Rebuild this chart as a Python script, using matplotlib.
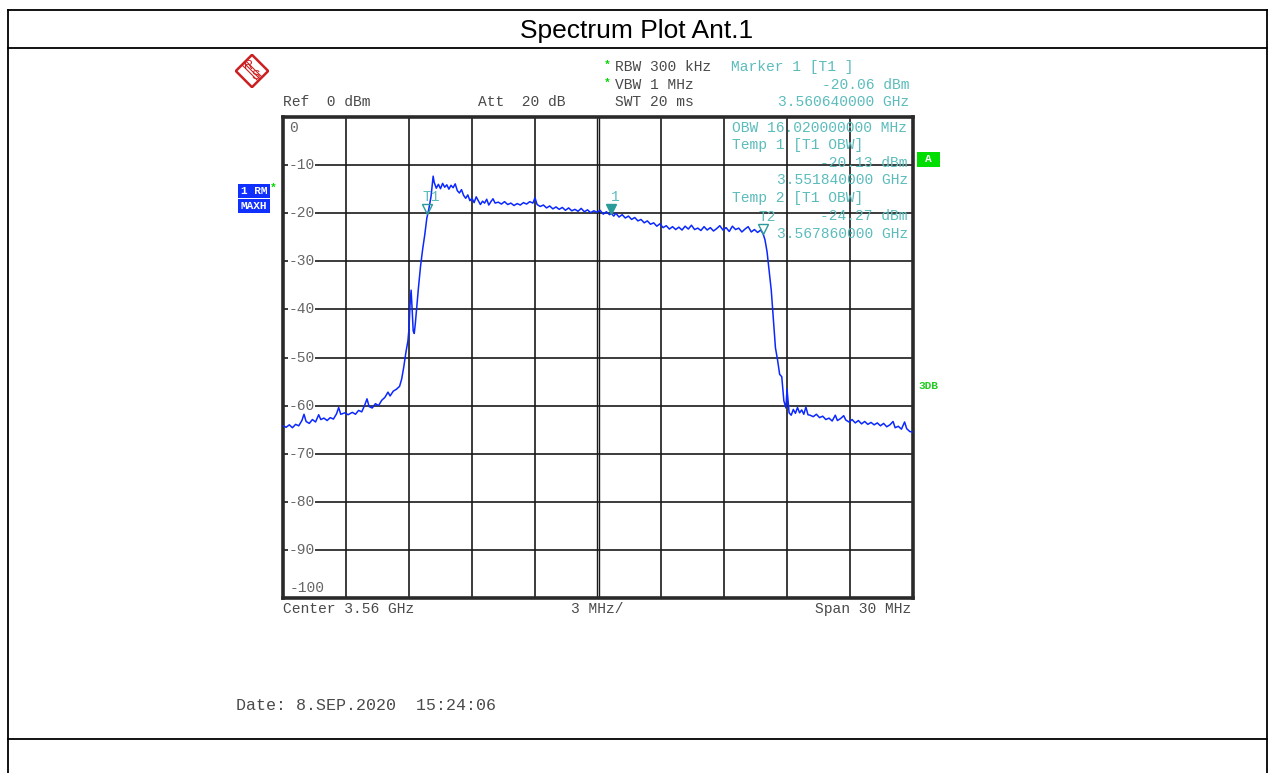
import numpy as np
import matplotlib.pyplot as plt
from matplotlib.lines import Line2D
from matplotlib.patches import Polygon, Rectangle

W, H = 1269, 773

# trace: frequency offset from start frequency (MHz) and level (dBm)
start_mhz = 3545.0
stop_mhz = 3575.0
offset_mhz = [
    0.00, 0.15, 0.30, 0.45, 0.60, 0.75, 0.90, 1.00, 1.10, 1.25, 1.40, 1.55, 1.70, 1.80, 1.95,
    2.10, 2.25, 2.40, 2.55, 2.65, 2.75, 2.95, 3.10, 3.30, 3.45, 3.60, 3.75, 3.90, 4.00, 4.10,
    4.25, 4.40, 4.55, 4.70, 4.85, 5.00, 5.10, 5.25, 5.40, 5.55, 5.65, 5.75, 5.85, 5.95, 6.00,
    6.05, 6.10, 6.15, 6.20, 6.25, 6.30, 6.35, 6.45, 6.55, 6.65, 6.75, 6.85, 6.95, 7.05, 7.10,
    7.15, 7.20, 7.30, 7.40, 7.50, 7.60, 7.70, 7.80, 7.90, 8.00, 8.10, 8.20, 8.30, 8.40, 8.50,
    8.60, 8.70, 8.80, 8.90, 9.00, 9.10, 9.20, 9.30, 9.40, 9.50, 9.60, 9.70, 9.80, 9.90, 10.00,
    10.10, 10.25, 10.40, 10.55, 10.70, 10.85, 11.00, 11.15, 11.30, 11.45, 11.60, 11.75, 11.90,
    12.00, 12.10, 12.25, 12.40, 12.55, 12.70, 12.85, 13.00, 13.15, 13.30, 13.45, 13.60, 13.75,
    13.90, 14.05, 14.20, 14.35, 14.50, 14.65, 14.80, 14.95, 15.10, 15.25, 15.40, 15.55, 15.64,
    15.75, 15.85, 16.00, 16.15, 16.30, 16.45, 16.60, 16.75, 16.90, 17.05, 17.20, 17.35, 17.50,
    17.65, 17.80, 17.95, 18.10, 18.25, 18.40, 18.55, 18.70, 18.85, 19.00, 19.15, 19.30, 19.45,
    19.60, 19.75, 19.90, 20.05, 20.20, 20.35, 20.50, 20.65, 20.80, 20.95, 21.10, 21.25, 21.40,
    21.55, 21.70, 21.85, 22.00, 22.15, 22.30, 22.45, 22.60, 22.75, 22.86, 22.95, 23.05, 23.15,
    23.25, 23.35, 23.45, 23.55, 23.65, 23.75, 23.85, 23.95, 24.00, 24.10, 24.20, 24.30, 24.40,
    24.50, 24.60, 24.70, 24.80, 24.90, 25.00, 25.10, 25.25, 25.40, 25.55, 25.70, 25.85, 26.00,
    26.15, 26.30, 26.40, 26.55, 26.70, 26.80, 26.95, 27.10, 27.25, 27.40, 27.55, 27.70, 27.85,
    28.00, 28.15, 28.30, 28.45, 28.60, 28.75, 28.90, 29.05, 29.15, 29.30, 29.45, 29.60, 29.70,
    29.85, 30.00,
]
level_dbm = [
    -64.2, -64.5, -64.0, -64.6, -63.9, -64.2, -63.1, -61.8, -63.3, -63.7, -62.9, -63.4, -61.9, -62.9, -62.6,
    -63.1, -62.5, -62.8, -61.7, -60.4, -61.8, -61.5, -61.9, -61.4, -61.8, -61.0, -61.3, -59.8, -58.6, -60.2,
    -60.5, -59.6, -60.0, -58.9, -58.3, -57.2, -58.0, -57.0, -56.6, -56.0, -54.5, -52.0, -49.0, -46.5, -44.0,
    -39.0, -36.0, -40.0, -44.5, -45.0, -43.0, -40.5, -35.5, -31.0, -27.5, -24.5, -21.0, -19.0, -16.5, -14.5,
    -12.3, -13.6, -14.8, -14.0, -14.9, -13.8, -14.6, -14.1, -15.0, -14.2, -14.7, -13.9, -15.3, -15.8, -15.1,
    -16.3, -16.9, -16.2, -17.4, -16.9, -17.8, -16.6, -17.4, -18.2, -17.5, -17.9, -17.1, -18.3, -17.6, -17.0,
    -17.9, -17.7, -18.1, -17.6, -18.2, -17.9, -18.4, -18.0, -18.3, -17.8, -18.1, -17.6, -17.9,
    -16.8, -18.2, -18.6, -18.3, -18.9, -18.5, -19.1, -18.7, -19.2, -18.8, -19.4, -18.9, -19.5,
    -19.2, -19.6, -19.0, -19.7, -19.3, -19.9, -19.5, -19.8, -19.4, -20.2, -19.7, -20.3, -20.06,
    -20.6, -20.0, -20.8, -20.3, -21.0, -20.6, -21.3, -20.9, -21.6, -21.3, -22.0, -21.6, -22.3,
    -22.0, -22.7, -22.2, -23.0, -22.6, -23.3, -22.8, -23.4, -22.9, -23.5, -22.7, -23.3, -22.5,
    -23.4, -23.1, -23.6, -22.8, -23.5, -23.0, -23.7, -23.2, -22.6, -23.5, -23.0, -23.8, -22.7,
    -23.4, -23.1, -23.9, -23.3, -22.8, -23.9, -23.4, -24.0, -23.5, -24.27, -25.5, -28.0, -32.0,
    -36.0, -42.0, -48.0, -50.5, -53.5, -54.0, -59.0, -60.5, -56.5, -61.5, -62.0, -60.8, -61.6,
    -60.4, -61.5, -60.9, -61.8, -60.3, -61.9, -62.0, -62.3, -61.8, -62.5, -62.2, -62.9, -62.6,
    -63.2, -62.0, -63.1, -62.7, -62.1, -63.0, -63.4, -62.9, -63.6, -63.1, -63.8, -63.3, -63.9,
    -63.5, -64.0, -63.6, -64.2, -63.7, -64.4, -64.0, -63.3, -64.6, -64.3, -64.9, -63.4, -64.8,
    -65.4, -65.5,
]

marker_names = ['T1', '1', 'T2']
marker_mhz = [3551.84, 3560.64, 3567.86]
marker_dbm = [-20.13, -20.06, -24.27]
marker_filled = [False, True, False]

y_tick_values = [0, -10, -20, -30, -40, -50, -60, -70, -80, -90, -100]

mono = 'Liberation Mono'
gray = '#4a4a4a'
teal = '#5cbcbc'
green = '#00d800'
fs = 10.5


def fx(x):
    return x / W


def fy(y):
    return 1 - y / H


def label(x, y, s, color=gray, ha='left', size=fs, **kw):
    fig.text(fx(x), fy(y), s, ha=ha, va='center', family=mono, size=size, color=color, **kw)


fig = plt.figure(figsize=(W / 100, H / 100), dpi=100)

# page frame
for xs, ys in [([8, 8], [10, 780]), ([1267, 1267], [10, 780]), ([8, 1267], [10, 10]),
               ([8, 1267], [48, 48]), ([8, 1267], [739, 739])]:
    fig.add_artist(Line2D([fx(v) for v in xs], [fy(v) for v in ys], color='black', lw=1.3))
fig.text(fx(637), fy(31), 'Spectrum Plot Ant.1', ha='center', va='center',
         family='Liberation Sans', size=19)

# spectrum axes
ax = fig.add_axes([fx(283), fy(598), (913 - 283) / W, (598 - 117) / H])
freqs = [start_mhz + f for f in offset_mhz]
ax.plot(freqs, level_dbm, color='#0a28ff', lw=1.1, zorder=3)
ax.set_xlim(start_mhz, stop_mhz)
ax.set_ylim(-100, 0)
ax.set_xticks([3548, 3551, 3554, 3557, 3563, 3566, 3569, 3572])
ax.set_yticks(np.arange(-100, 1, 10))
ax.tick_params(length=0, labelbottom=False, labelleft=False)
ax.grid(True, color='#1a1a1a', lw=1.2)
ax.axvline(3559.94, color='#1a1a1a', lw=1.0)
ax.axvline(3560.07, color='#1a1a1a', lw=1.0)
for s in ax.spines.values():
    s.set_linewidth(2.6)
    s.set_color('#2a2a2a')

for v in y_tick_values:
    if v == 0:
        ax.text(start_mhz + 0.3, -2.3, '0', ha='left', va='center', family=mono, size=fs, color='#666666')
    elif v == -100:
        ax.text(start_mhz + 0.3, -97.9, '-100', ha='left', va='center', family=mono, size=fs, color='#666666')
    else:
        ax.text(start_mhz + 0.25, v, '-%d' % (-v), ha='left', va='center', family=mono, size=fs,
                color='#666666', bbox=dict(facecolor='white', edgecolor='none', pad=0.3), zorder=4)

for name, f, lv, filled in zip(marker_names, marker_mhz, marker_dbm, marker_filled):
    ax.plot([f], [lv + 1.0], marker='v', ms=7.5, mec='#2a9a9a', mew=1.0,
            mfc='#2a9a9a' if filled else 'none', zorder=5)
    ax.text(f + 0.2, lv + 3.4, name, ha='center', va='center', family=mono, size=fs, color=teal, zorder=5)

# marker table inside the grid
ax_txt = [
    (732, 128, 'OBW 16.020000000 MHz', 'left'),
    (732, 145, 'Temp 1 [T1 OBW]', 'left'),
    (908, 163, '-20.13 dBm', 'right'),
    (908, 180, '3.551840000 GHz', 'right'),
    (732, 198, 'Temp 2 [T1 OBW]', 'left'),
    (908, 216, '-24.27 dBm', 'right'),
    (908, 234, '3.567860000 GHz', 'right'),
]
for x, y, s, ha in ax_txt:
    label(x, y, s, color=teal, ha=ha, zorder=6)

# header texts
label(283, 102, 'Ref  0 dBm')
label(478, 102, 'Att  20 dB')
label(604, 65, '*', color=green, size=8, weight='bold')
label(604, 83, '*', color=green, size=8, weight='bold')
label(615, 67, 'RBW 300 kHz')
label(615, 85, 'VBW 1 MHz')
label(615, 102, 'SWT 20 ms')
label(731, 67, 'Marker 1 [T1 ]', color=teal)
label(909, 85, '-20.06 dBm', color=teal, ha='right')
label(909, 102, '3.560640000 GHz', color=teal, ha='right')

# footer texts
label(283, 609, 'Center 3.56 GHz')
label(597, 609, '3 MHz/', ha='center')
label(911, 609, 'Span 30 MHz', ha='right')
label(236, 706, 'Date: 8.SEP.2020  15:24:06', size=12)

# trace info boxes on the left
for y0, s in [(184, '1 RM'), (199, 'MAXH')]:
    fig.add_artist(Rectangle((fx(238), fy(y0 + 14)), 32 / W, 14 / H, transform=fig.transFigure,
                             facecolor='#1030ff', edgecolor='none'))
    fig.text(fx(254), fy(y0 + 7), s, ha='center', va='center', family=mono, size=8,
             weight='bold', color='white')
label(270, 188, '*', color=green, size=8, weight='bold')

# right side indicators
fig.add_artist(Rectangle((fx(917), fy(167)), 23 / W, 15 / H, transform=fig.transFigure,
                         facecolor='#00dd00', edgecolor='none'))
fig.text(fx(928.5), fy(159.5), 'A', ha='center', va='center', family=mono, size=8,
         weight='bold', color='white')
fig.text(fx(918), fy(386), '3DB', ha='left', va='center', family=mono, size=8,
         weight='bold', color='#22cc22')

# R&S logo
lg = fig.add_axes([fx(235), fy(88), 34 / W, 34 / H])
lg.set_xlim(-1.05, 1.05)
lg.set_ylim(-1.05, 1.05)
lg.axis('off')
red = '#cc2020'
lg.add_patch(Polygon([(0, 1), (1, 0), (0, -1), (-1, 0)], closed=True, fill=False, ec=red, lw=1.8))
for d in [-0.12, 0.0, 0.12]:
    lg.plot([-0.5 + d, 0.5 + d], [0.5 + d, -0.5 + d], color=red, lw=0.8)
lg.text(-0.2, 0.3, 'R', ha='center', va='center', family='Liberation Sans', size=9, color=red)
lg.text(0.24, -0.3, 'S', ha='center', va='center', family='Liberation Sans', size=9, color=red)

fig.savefig('out.png', dpi=100)
